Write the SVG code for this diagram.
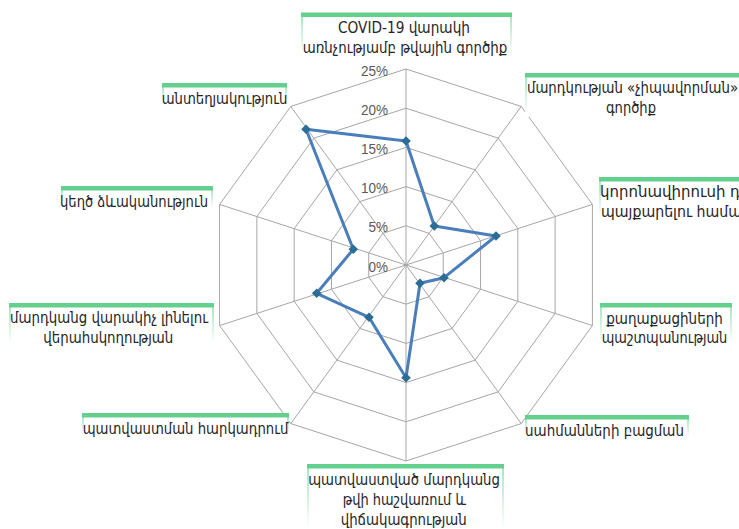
<svg xmlns="http://www.w3.org/2000/svg" xmlns:xlink="http://www.w3.org/1999/xlink" width="739" height="529" viewBox="0 0 739 529">
<defs>
<style>
.grid{fill:none;stroke:#a6a6a6;stroke-width:1}
.series{fill:none;stroke:#4a7ebb;stroke-width:3;stroke-linejoin:round}
.tick{font-family:"Liberation Sans",Arial,sans-serif;font-size:14px;fill:#595959;text-anchor:end}
.lbl{font-family:"DejaVu Sans","Noto Sans",sans-serif;font-size:16px;fill:#262626}
.bg{fill:#ffffff}
.bar{fill:#63d08e;filter:url(#soft)}
.side{fill:url(#fade)}
</style>
<filter id="soft" x="-5%" y="-100%" width="110%" height="300%"><feGaussianBlur stdDeviation="0.7"/></filter>
<linearGradient id="fade" x1="0" y1="0" x2="0" y2="1"><stop offset="0" stop-color="#a8e6c0"/><stop offset="1" stop-color="#ffffff"/></linearGradient>
<path id="dia" d="M0,-4.8 L4.8,0 L0,4.8 L-4.8,0Z" fill="#2c6d96"/>
</defs>
<rect width="739" height="529" fill="#ffffff"/>
<g id="grid">
<polygon class="grid" points="406,69 521.21,106.43 592.41,204.43 592.41,325.57 521.21,423.57 406,461 290.79,423.57 219.59,325.57 219.59,204.43 290.79,106.43"/>
<polygon class="grid" points="406,108.2 498.16,138.15 555.13,216.55 555.13,313.45 498.16,391.85 406,421.8 313.84,391.85 256.87,313.45 256.87,216.55 313.84,138.15"/>
<polygon class="grid" points="406,147.4 475.12,169.86 517.84,228.66 517.84,301.34 475.12,360.14 406,382.6 336.88,360.14 294.16,301.34 294.16,228.66 336.88,169.86"/>
<polygon class="grid" points="406,186.6 452.08,201.57 480.56,240.77 480.56,289.23 452.08,328.43 406,343.4 359.92,328.43 331.44,289.23 331.44,240.77 359.92,201.57"/>
<polygon class="grid" points="406,225.8 429.04,233.29 443.28,252.89 443.28,277.11 429.04,296.71 406,304.2 382.96,296.71 368.72,277.11 368.72,252.89 382.96,233.29"/>
<path class="grid" d="M406,265L406,69M406,265L521.21,106.43M406,265L592.41,204.43M406,265L592.41,325.57M406,265L521.21,423.57M406,265L406,461M406,265L290.79,423.57M406,265L219.59,325.57M406,265L219.59,204.43M406,265L290.79,106.43"/>
</g>
<g id="ticks">
<text class="tick" x="388" y="76" textLength="27" lengthAdjust="spacingAndGlyphs">25%</text>
<text class="tick" x="388" y="115" textLength="27" lengthAdjust="spacingAndGlyphs">20%</text>
<text class="tick" x="388" y="154" textLength="27" lengthAdjust="spacingAndGlyphs">15%</text>
<text class="tick" x="388" y="193" textLength="27" lengthAdjust="spacingAndGlyphs">10%</text>
<text class="tick" x="388" y="232" textLength="19.5" lengthAdjust="spacingAndGlyphs">5%</text>
<text class="tick" x="388" y="272" textLength="19.5" lengthAdjust="spacingAndGlyphs">0%</text>
</g>
<g id="connectors">
<polygon class="series" points="406,141 434.3,226 496,236 444,277.7 420,283.3 406,377.7 369,317.3 316.7,293.3 353.3,249.3 306,129.3"/>
</g>
<g id="markers">
<use xlink:href="#dia" x="406" y="141"/>
<use xlink:href="#dia" x="434.3" y="226"/>
<use xlink:href="#dia" x="496" y="236"/>
<use xlink:href="#dia" x="444" y="277.7"/>
<use xlink:href="#dia" x="420" y="283.3"/>
<use xlink:href="#dia" x="406" y="377.7"/>
<use xlink:href="#dia" x="369" y="317.3"/>
<use xlink:href="#dia" x="316.7" y="293.3"/>
<use xlink:href="#dia" x="353.3" y="249.3"/>
<use xlink:href="#dia" x="306" y="129.3"/>
</g>
<g id="label-covid">
<rect class="bg" x="302" y="13" width="209" height="44"/>
<rect class="side" x="301" y="16" width="2" height="38"/><rect class="side" x="510" y="16" width="2" height="38"/>
<rect class="bar" x="301" y="12.5" width="211" height="4.5"/>
<text class="lbl" x="404" y="33" text-anchor="middle" textLength="132" lengthAdjust="spacingAndGlyphs">COVID-19 վարակի</text>
<text class="lbl" x="405" y="53" text-anchor="middle" textLength="204.6" lengthAdjust="spacingAndGlyphs">առնչությամբ թվային գործիք</text>
</g>
<g id="label-chip">
<rect class="bg" x="526" y="73" width="213" height="44"/>
<rect class="side" x="525" y="76" width="2" height="38"/>
<rect class="bar" x="525" y="73" width="214" height="4.5"/>
<text class="lbl" x="527" y="93" textLength="211" lengthAdjust="spacingAndGlyphs">մարդկության «չիպավորման»</text>
<text class="lbl" x="631" y="113" text-anchor="middle" textLength="50" lengthAdjust="spacingAndGlyphs">գործիք</text>
</g>
<g id="label-corona">
<rect class="bg" x="600" y="177" width="139" height="44"/>
<rect class="side" x="599" y="180" width="2" height="38"/>
<rect class="bar" x="599" y="177" width="140" height="4.5"/>
<text class="lbl" x="600" y="197" textLength="159" lengthAdjust="spacingAndGlyphs">կորոնավիրուսի դեմ</text>
<text class="lbl" x="601" y="217" textLength="150" lengthAdjust="spacingAndGlyphs">պայքարելու համար</text>
</g>
<g id="label-citizens">
<rect class="bg" x="601" y="303" width="130" height="44"/>
<rect class="side" x="600" y="306" width="2" height="38"/><rect class="side" x="730" y="306" width="2" height="38"/>
<rect class="bar" x="600" y="303" width="132" height="4.5"/>
<text class="lbl" x="664.5" y="323.5" text-anchor="middle" textLength="116.7" lengthAdjust="spacingAndGlyphs">քաղաքացիների</text>
<text class="lbl" x="664.5" y="343" text-anchor="middle" textLength="125.7" lengthAdjust="spacingAndGlyphs">պաշտպանության</text>
</g>
<g id="label-borders">
<rect class="bg" x="526" y="415" width="162" height="24"/>
<rect class="side" x="525" y="418" width="2" height="19"/><rect class="side" x="687" y="418" width="2" height="19"/>
<rect class="bar" x="525" y="415" width="164" height="4.5"/>
<text class="lbl" x="525" y="436" textLength="159" lengthAdjust="spacingAndGlyphs">սահմանների բացման</text>
</g>
<g id="label-vaccinated">
<rect class="bg" x="308" y="464" width="195" height="65"/>
<rect class="side" x="307" y="467" width="2" height="62"/><rect class="side" x="502" y="467" width="2" height="62"/>
<rect class="bar" x="307" y="464" width="197" height="4.5"/>
<text class="lbl" x="404" y="485" text-anchor="middle" textLength="191.7" lengthAdjust="spacingAndGlyphs">պատվաստված մարդկանց</text>
<text class="lbl" x="404.3" y="505" text-anchor="middle" textLength="123.3" lengthAdjust="spacingAndGlyphs">թվի հաշվառում և</text>
<text class="lbl" x="403.7" y="525" text-anchor="middle" textLength="126" lengthAdjust="spacingAndGlyphs">վիճակագրության</text>
</g>
<g id="label-mandatory">
<rect class="bg" x="83" y="413" width="205" height="24"/>
<rect class="side" x="82" y="416" width="2" height="19"/><rect class="side" x="287" y="416" width="2" height="19"/>
<rect class="bar" x="82" y="413" width="207" height="4.5"/>
<text class="lbl" x="185.5" y="434" text-anchor="middle" textLength="205.7" lengthAdjust="spacingAndGlyphs">պատվաստման հարկադրում</text>
</g>
<g id="label-contagious">
<rect class="bg" x="10" y="303" width="203" height="44"/>
<rect class="side" x="9" y="306" width="2" height="38"/><rect class="side" x="212" y="306" width="2" height="38"/>
<rect class="bar" x="9" y="303" width="205" height="4.5"/>
<text class="lbl" x="109" y="323" text-anchor="middle" textLength="198" lengthAdjust="spacingAndGlyphs">մարդկանց վարակիչ լինելու</text>
<text class="lbl" x="108.3" y="343" text-anchor="middle" textLength="130" lengthAdjust="spacingAndGlyphs">վերահսկողության</text>
</g>
<g id="label-fake">
<rect class="bg" x="62" y="186" width="150" height="24"/>
<rect class="side" x="61" y="189" width="2" height="19"/><rect class="side" x="211" y="189" width="2" height="19"/>
<rect class="bar" x="61" y="186" width="152" height="4.5"/>
<text class="lbl" x="134" y="207" text-anchor="middle" textLength="148" lengthAdjust="spacingAndGlyphs">կեղծ ձևականություն</text>
</g>
<g id="label-ignorance">
<rect class="bg" x="163" y="83" width="123" height="24"/>
<rect class="side" x="162" y="86" width="2" height="19"/><rect class="side" x="285" y="86" width="2" height="19"/>
<rect class="bar" x="162" y="83" width="125" height="4.5"/>
<text class="lbl" x="224.5" y="104" text-anchor="middle" textLength="125.7" lengthAdjust="spacingAndGlyphs">անտեղյակություն</text>
</g>
</svg>
